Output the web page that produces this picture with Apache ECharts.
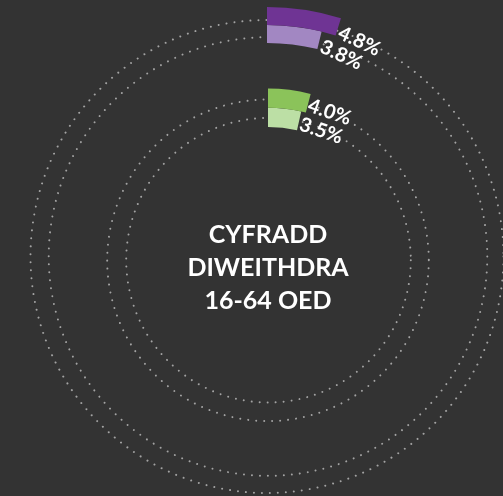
<!DOCTYPE html>
<html>
<head>
<meta charset="utf-8">
<script src="https://cdn.jsdelivr.net/npm/echarts@6/dist/echarts.min.js"></script>
<style>
  html, body { margin: 0; padding: 0; background: #333333; }
  #chart { width: 503px; height: 496px; }
</style>
</head>
<body>
<div id="chart"></div>
<script>
// ---- data ----
const ringCategories = ['inner', 'outer'];
const purpleValues = [3.8, 4.8];   // light (inner), dark (outer)
const greenValues = [3.5, 4.0];    // light (inner), dark (outer)
const purpleColors = ['#a287c2', '#6f3494'];
const greenColors = ['#bcdfa5', '#8bc35a'];
const centerTitleLines = ['CYFRADD', 'DIWEITHDRA', '16-64 OED'];
const angleMax = 100;

const chart = echarts.init(document.getElementById('chart'), null, { renderer: 'canvas' });

const dotLine = { color: '#a3a3a3', width: 2, type: [0.01, 8], cap: 'round' };

// polars: 0 purple bars, 1 green bars, 2-5 dotted tracks
const polars = [
  { center: [267, 256], radius: [213, 249] },
  { center: [268, 260], radius: [133, 171.5] },
  { center: [267, 256.5], radius: [0, 236.5] },
  { center: [268, 256.5], radius: [0, 219.3] },
  { center: [268, 260.3], radius: [0, 160.8] },
  { center: [268.5, 260.2], radius: [0, 142.3] }
];

const angleAxes = polars.map((p, i) => ({
  polarIndex: i,
  type: 'value',
  min: 0,
  max: angleMax,
  startAngle: 90,
  clockwise: true,
  axisLine: { show: i >= 2, lineStyle: dotLine },
  axisTick: { show: false },
  axisLabel: { show: false },
  splitLine: { show: false }
}));

const radiusAxes = polars.map((p, i) => (i < 2 ? {
  polarIndex: i,
  type: 'category',
  data: ringCategories,
  show: false,
  axisLine: { show: false },
  axisTick: { show: false },
  axisLabel: { show: false },
  splitLine: { show: false }
} : {
  polarIndex: i,
  type: 'value',
  min: 0,
  max: 1,
  show: false,
  axisLine: { show: false },
  axisTick: { show: false },
  axisLabel: { show: false },
  splitLine: { show: false }
}));

function barSeries(values, colors, polarIndex) {
  return {
    type: 'bar',
    coordinateSystem: 'polar',
    polarIndex: polarIndex,
    barCategoryGap: '0%',
    barWidth: '100%',
    silent: true,
    data: values.map((v, k) => ({ value: v, itemStyle: { color: colors[k] } }))
  };
}

// value labels placed at the end of each bar through the same polar axes
function labelSeries(values, polarIndex, rot, offsets) {
  return {
    type: 'scatter',
    coordinateSystem: 'polar',
    polarIndex: polarIndex,
    symbolSize: 0.1,
    silent: true,
    itemStyle: { color: 'rgba(0,0,0,0)', opacity: 1 },
    data: values.map((v, k) => ({
      value: [k, v],
      label: { offset: offsets[k] }
    })),
    label: {
      show: true,
      position: 'right',
      distance: 2,
      rotate: rot,
      color: '#ffffff',
      opacity: 1,
      fontFamily: 'Lato, "Noto Sans", sans-serif',
      fontSize: 20,
      fontWeight: 'bold',
      formatter: (p) => p.value[1].toFixed(1) + '%'
    }
  };
}

chart.setOption({
  backgroundColor: '#333333',
  animation: false,
  polar: polars,
  angleAxis: angleAxes,
  radiusAxis: radiusAxes,
  series: [
    barSeries(purpleValues, purpleColors, 0),
    barSeries(greenValues, greenColors, 1),
    labelSeries(purpleValues, 0, -25, [[2, 5], [1, 5]]),
    labelSeries(greenValues, 1, -19, [[0, 3], [-1, 2]])
  ],
  graphic: [{
    type: 'text',
    x: 268,
    y: 268,
    style: {
      text: centerTitleLines.join('\n'),
      fill: '#ffffff',
      font: 'bold 25px Lato, "Noto Sans", sans-serif',
      lineHeight: 33,
      align: 'center',
      verticalAlign: 'middle'
    }
  }]
});
</script>
</body>
</html>
